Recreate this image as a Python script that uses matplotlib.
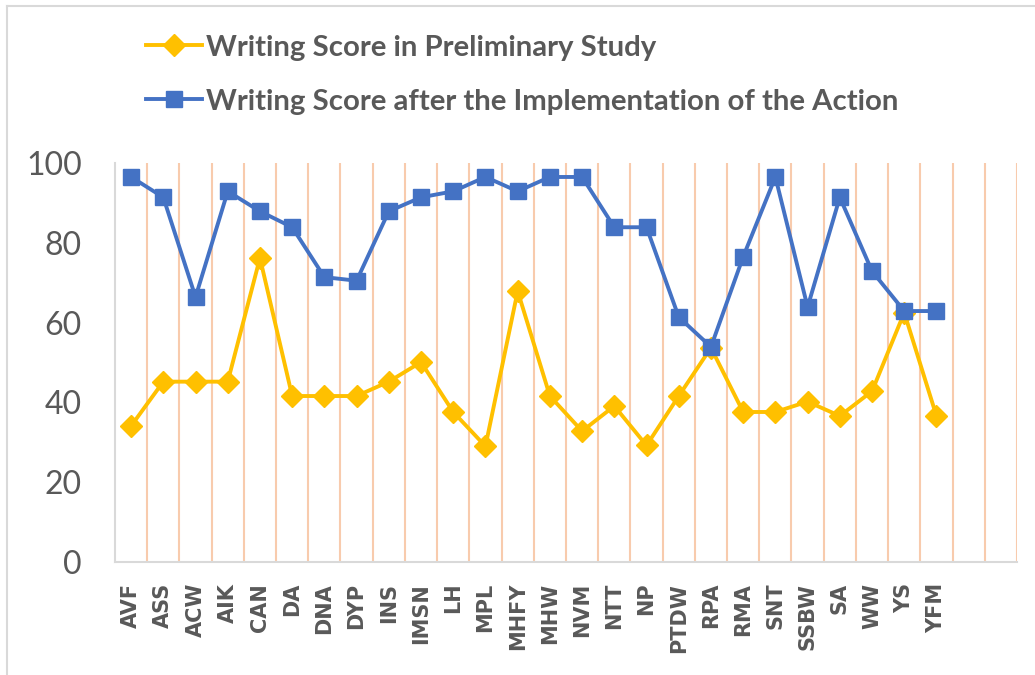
import matplotlib
matplotlib.use("Agg")
import matplotlib.pyplot as plt
from matplotlib.lines import Line2D

# ---- data ----
students = ['AVF', 'ASS', 'ACW', 'AIK', 'CAN', 'DA', 'DNA', 'DYP', 'INS', 'IMSN',
            'LH', 'MPL', 'MHFY', 'MHW', 'NVM', 'NTT', 'NP', 'PTDW', 'RPA', 'RMA',
            'SNT', 'SSBW', 'SA', 'WW', 'YS', 'YFM']
n_slots = 28  # two empty categories at the end of the axis

preliminary = [34.1, 45.2, 45.2, 45.2, 76.2, 41.6, 41.6, 41.6, 45.2, 50.1,
               37.6, 29.0, 67.9, 41.6, 32.8, 39.1, 29.2, 41.6, 53.7, 37.6,
               37.6, 40.2, 36.6, 42.8, 62.5, 36.6]
after_action = [96.5, 91.4, 66.4, 92.9, 87.9, 83.9, 71.4, 70.5, 87.9, 91.4,
                92.9, 96.5, 92.9, 96.5, 96.5, 83.9, 83.9, 61.4, 53.9, 76.5,
                96.5, 63.9, 91.4, 72.9, 62.9, 62.9]

label_pre = 'Writing Score in Preliminary Study'
label_after = 'Writing Score after the Implementation of the Action'

YELLOW = '#FFC000'
BLUE = '#4472C4'
GREY = '#595959'
GRID = '#F8CBAD'

plt.rcParams['font.family'] = ['Lato', 'DejaVu Sans']

fig = plt.figure(figsize=(10.35, 6.75), dpi=100)
ax = fig.add_axes([0.1111, 0.1674, 0.8715, 0.5911])

x = list(range(len(students)))
ax.plot(x, preliminary, color=YELLOW, lw=2.8, marker='D', ms=11.5, zorder=3)
ax.plot(x, after_action, color=BLUE, lw=2.8, marker='s', ms=11.5, zorder=4)

ax.set_xlim(-0.5, n_slots - 0.5)
ax.set_ylim(0, 100)
ax.set_yticks(range(0, 101, 20))
ax.tick_params(axis='y', length=0, labelsize=23, labelcolor=GREY, pad=24)

# vertical gridlines between categories
for b in range(1, n_slots + 1):
    ax.axvline(b - 0.5, color=GRID, lw=1.5, zorder=1)

ax.set_xticks(x)
ax.set_xticklabels(students, rotation=90, fontsize=15,
                   fontweight='bold', color=GREY, family='DejaVu Sans')
ax.tick_params(axis='x', length=0, pad=15)

for side in ['top', 'right']:
    ax.spines[side].set_visible(False)
for side in ['left', 'bottom']:
    ax.spines[side].set_color('#D9D9D9')
    ax.spines[side].set_linewidth(1.5)

handles = [Line2D([], [], color=YELLOW, lw=2.8, marker='D', ms=11.5),
           Line2D([], [], color=BLUE, lw=2.8, marker='s', ms=11.5)]
fig.legend(handles, [label_pre, label_after], loc='upper left',
           bbox_to_anchor=(0.1155, 0.988), frameon=False, handlelength=1.9,
           handletextpad=0.15, labelspacing=0.95, prop={'size': 21.2, 'weight': 'bold'},
           labelcolor=GREY)

# chart area border (only top and left edges visible in the crop)
fig.add_artist(Line2D([7 / 1035, 1], [1 - 6 / 675, 1 - 6 / 675], color='#D9D9D9', lw=1.5))
fig.add_artist(Line2D([7 / 1035, 7 / 1035], [0, 1 - 6 / 675], color='#D9D9D9', lw=1.5))

fig.savefig('out.png', dpi=100)
